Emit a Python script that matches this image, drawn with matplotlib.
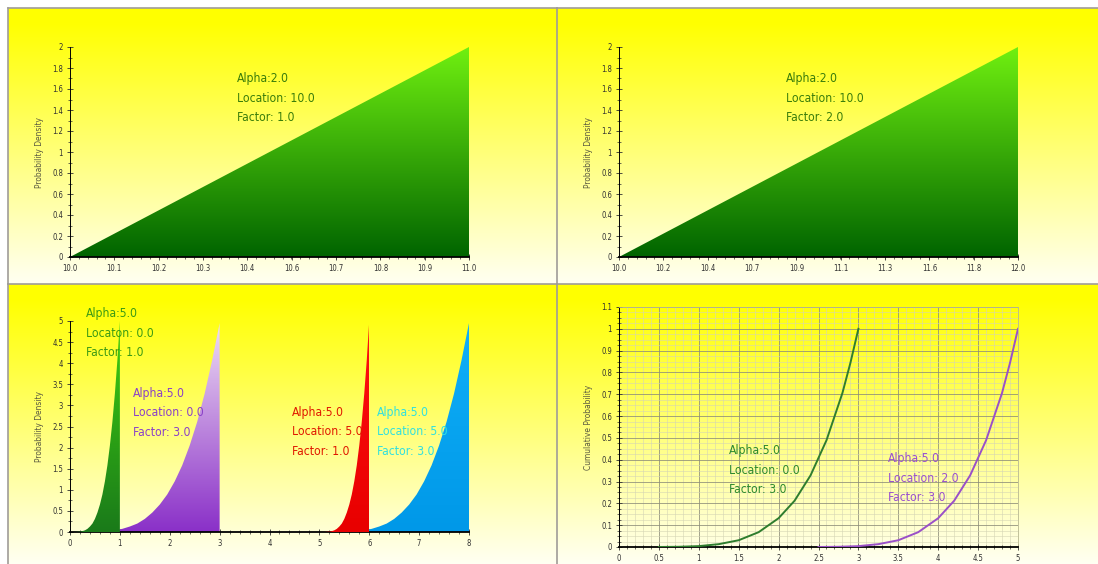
import numpy as np
import matplotlib
matplotlib.use("Agg")
import matplotlib.pyplot as plt
from matplotlib.ticker import MultipleLocator, AutoMinorLocator

# ---- data ----
# top panels: probability density (straight line, alpha 2)
tl_x = [10.0, 11.0]
tl_y = [0.0, 2.0]
tl_ticks = [10.0, 10.111, 10.222, 10.333, 10.444, 10.556, 10.667, 10.778, 10.889, 11.0]
tl_labels = ["10.0", "10.1", "10.2", "10.3", "10.4", "10.6", "10.7", "10.8", "10.9", "11.0"]

tr_x = [10.0, 12.0]
tr_y = [0.0, 2.0]
tr_ticks = [10.0, 10.222, 10.444, 10.667, 10.889, 11.111, 11.333, 11.556, 11.778, 12.0]
tr_labels = ["10.0", "10.2", "10.4", "10.7", "10.9", "11.1", "11.3", "11.6", "11.8", "12.0"]

# bottom-left: four density curves
green_x = [0.0, 0.1, 0.2, 0.25, 0.3, 0.35, 0.4, 0.45, 0.5, 0.55, 0.6, 0.65, 0.7,
           0.75, 0.8, 0.85, 0.9, 0.95, 1.0]
green_y = [0.0, 0.0005, 0.008, 0.02, 0.04, 0.075, 0.13, 0.2, 0.31, 0.46, 0.65, 0.89,
           1.2, 1.58, 2.05, 2.61, 3.28, 4.07, 5.0]
purple_x = [0.0, 0.3, 0.6, 0.75, 0.9, 1.05, 1.2, 1.35, 1.5, 1.65, 1.8, 1.95, 2.1,
            2.25, 2.4, 2.55, 2.7, 2.85, 3.0]
purple_y = [0.0, 0.0005, 0.008, 0.02, 0.04, 0.075, 0.13, 0.2, 0.31, 0.46, 0.65, 0.89,
            1.2, 1.58, 2.05, 2.61, 3.28, 4.07, 4.95]
red_x = [5.0, 5.1, 5.2, 5.25, 5.3, 5.35, 5.4, 5.45, 5.5, 5.55, 5.6, 5.65, 5.7,
         5.75, 5.8, 5.85, 5.9, 5.95, 6.0]
red_y = [0.0, 0.0005, 0.008, 0.02, 0.04, 0.075, 0.13, 0.2, 0.31, 0.46, 0.65, 0.89,
         1.2, 1.58, 2.05, 2.61, 3.28, 4.07, 5.0]
blue_x = [5.0, 5.3, 5.6, 5.75, 5.9, 6.05, 6.2, 6.35, 6.5, 6.65, 6.8, 6.95, 7.1,
          7.25, 7.4, 7.55, 7.7, 7.85, 8.0]
blue_y = [0.0, 0.0005, 0.008, 0.02, 0.04, 0.075, 0.13, 0.2, 0.31, 0.46, 0.65, 0.89,
          1.2, 1.58, 2.05, 2.61, 3.28, 4.07, 4.95]

# bottom-right: cumulative curves
cdf_g_x = [0.5, 0.75, 1.0, 1.25, 1.5, 1.75, 2.0, 2.2, 2.4, 2.6, 2.8, 2.9, 3.0]
cdf_g_y = [0.0001, 0.001, 0.004, 0.013, 0.031, 0.068, 0.132, 0.212, 0.328, 0.489, 0.706, 0.844, 1.0]
cdf_p_x = [2.5, 2.75, 3.0, 3.25, 3.5, 3.75, 4.0, 4.2, 4.4, 4.6, 4.8, 4.9, 5.0]
cdf_p_y = [0.0001, 0.001, 0.004, 0.013, 0.031, 0.068, 0.132, 0.212, 0.328, 0.489, 0.706, 0.844, 1.0]

W, H = 1098, 564
NARROW = ["DejaVu Sans"]


def hexrgb(h):
    h = h.lstrip("#")
    return np.array([int(h[i:i + 2], 16) / 255 for i in (0, 2, 4)])


def panel(x0, y0, x1, y1):
    # yellow gradient background with grey frame on top/left
    ax = fig.add_axes([x0 / W, 1 - y1 / H, (x1 - x0) / W, (y1 - y0) / H], zorder=0)
    t = np.linspace(0, 1, 200)[:, None]
    b = 0.95 * np.clip((t - 0.05) / 0.95, 0, 1) ** 1.0
    img = np.dstack([np.ones((200, 2)), np.ones((200, 2)), np.repeat(b, 2, axis=1)])
    ax.imshow(img, aspect="auto", extent=[0, 1, 0, 1])
    ax.set_xticks([])
    ax.set_yticks([])
    for s in ("right", "bottom"):
        ax.spines[s].set_visible(False)
    for s in ("top", "left"):
        ax.spines[s].set_color("#a09c98")
        ax.spines[s].set_linewidth(1.2)
    return ax


def plot_axes(x0, ytop, x1, ybot):
    ax = fig.add_axes([x0 / W, 1 - ybot / H, (x1 - x0) / W, (ybot - ytop) / H], zorder=2)
    ax.patch.set_alpha(0)
    for s in ("top", "right"):
        ax.spines[s].set_visible(False)
    ax.spines["left"].set_linewidth(0.7)
    ax.spines["bottom"].set_linewidth(1.3)
    ax.tick_params(which="both", direction="inout", labelsize=5.5, colors="#303030", pad=3)
    ax.tick_params(which="major", length=4, width=0.6)
    ax.tick_params(which="minor", length=2.5, width=0.5)
    return ax


def grad_fill(ax, x, y, top, bottom, ymax, z=2):
    poly = ax.fill_between(x, y, 0, facecolor="none", edgecolor="none")
    g = np.linspace(0, 1, 256)[:, None, None]
    img = hexrgb(bottom) + (hexrgb(top) - hexrgb(bottom)) * g
    im = ax.imshow(img, extent=[min(x), max(x), 0, ymax], origin="lower",
                   aspect="auto", zorder=z)
    im.set_clip_path(poly.get_paths()[0], ax.transData)


def label(ax, x, y, txt, color):
    ax.text(x, y, txt, color=color, fontsize=8.7, family=NARROW, fontstretch="condensed",
            va="top", ha="left", linespacing=1.65, zorder=5, clip_on=False)


def fix_ticklabels(ax):
    for lab in ax.get_xticklabels() + ax.get_yticklabels():
        lab.set_family(NARROW)
        lab.set_stretch("condensed")


fig = plt.figure(figsize=(W / 100, H / 100), dpi=100)
fig.patch.set_facecolor("white")

panel(8, 8, 557, 284)
panel(557, 8, 1098, 284)
panel(8, 284, 557, 564)
panel(557, 284, 1098, 564)

ylab_kw = dict(fontsize=6, color="#5a5a40", family=NARROW, fontstretch="condensed")

# top-left
ax = plot_axes(70, 47, 469, 257)
grad_fill(ax, tl_x, tl_y, "#70f010", "#006400", 2)
ax.set_xlim(10, 11)
ax.set_ylim(0, 2)
ax.set_xticks(tl_ticks)
ax.set_xticklabels(tl_labels)
ax.set_yticks(np.arange(0, 2.01, 0.2))
ax.set_yticklabels(["0", "0.2", "0.4", "0.6", "0.8", "1", "1.2", "1.4", "1.6", "1.8", "2"])
ax.xaxis.set_minor_locator(AutoMinorLocator(5))
ax.yaxis.set_minor_locator(AutoMinorLocator(2))
ax.set_ylabel("Probability Density", labelpad=6, **ylab_kw)
fix_ticklabels(ax)
label(ax, 10.419, 1.76, "Alpha:2.0\nLocation: 10.0\nFactor: 1.0", "#3a7d0a")

# top-right
ax = plot_axes(619, 47, 1018, 257)
grad_fill(ax, tr_x, tr_y, "#70f010", "#006400", 2)
ax.set_xlim(10, 12)
ax.set_ylim(0, 2)
ax.set_xticks(tr_ticks)
ax.set_xticklabels(tr_labels)
ax.set_yticks(np.arange(0, 2.01, 0.2))
ax.set_yticklabels(["0", "0.2", "0.4", "0.6", "0.8", "1", "1.2", "1.4", "1.6", "1.8", "2"])
ax.xaxis.set_minor_locator(AutoMinorLocator(5))
ax.yaxis.set_minor_locator(AutoMinorLocator(2))
ax.set_ylabel("Probability Density", labelpad=6, **ylab_kw)
fix_ticklabels(ax)
label(ax, 10.837, 1.76, "Alpha:2.0\nLocation: 10.0\nFactor: 2.0", "#3a7d0a")

# bottom-left
ax = plot_axes(70, 321, 469, 532)
grad_fill(ax, purple_x, purple_y, "#f0e0f4", "#8a30c8", 5, z=2)
grad_fill(ax, green_x, green_y, "#40d010", "#1a7a1a", 5, z=3)
grad_fill(ax, blue_x, blue_y, "#10b0f8", "#0098e8", 5, z=2)
grad_fill(ax, red_x, red_y, "#ff1010", "#e80000", 5, z=3)
ax.set_xlim(0, 8)
ax.set_ylim(0, 5)
ax.set_xticks(range(0, 9))
ax.set_yticks(np.arange(0, 5.01, 0.5))
ax.set_yticklabels(["0", "0.5", "1", "1.5", "2", "2.5", "3", "3.5", "4", "4.5", "5"])
ax.xaxis.set_minor_locator(AutoMinorLocator(5))
ax.yaxis.set_minor_locator(AutoMinorLocator(2))
ax.set_ylabel("Probability Density", labelpad=6, **ylab_kw)
fix_ticklabels(ax)
label(ax, 0.32, 5.33, "Alpha:5.0\nLocaton: 0.0\nFactor: 1.0", "#3c9a14")
label(ax, 1.26, 3.44, "Alpha:5.0\nLocation: 0.0\nFactor: 3.0", "#8a40c8")
label(ax, 4.45, 2.99, "Alpha:5.0\nLocation: 5.0\nFactor: 1.0", "#e01800")
label(ax, 6.16, 2.99, "Alpha:5.0\nLocation: 5.0\nFactor: 3.0", "#30e0e0")

# bottom-right
ax = plot_axes(619, 307, 1018, 547)
ax.plot(cdf_g_x, cdf_g_y, color="#2e7d2e", lw=1.4, zorder=4)
ax.plot(cdf_p_x, cdf_p_y, color="#9a50c8", lw=1.4, zorder=4)
ax.set_xlim(0, 5)
ax.set_ylim(0, 1.1)
ax.set_xticks(np.arange(0, 5.01, 0.5))
ax.set_xticklabels(["0", "0.5", "1", "1.5", "2", "2.5", "3", "3.5", "4", "4.5", "5"])
ax.set_yticks(np.arange(0, 1.101, 0.1))
ax.set_yticklabels(["0", "0.1", "0.2", "0.3", "0.4", "0.5", "0.6", "0.7", "0.8", "0.9", "1", "1.1"])
ax.xaxis.set_minor_locator(MultipleLocator(0.1))
ax.yaxis.set_minor_locator(MultipleLocator(0.025))
ax.grid(which="major", color="#8c8c78", lw=0.7, alpha=0.8)
ax.grid(which="minor", color="#d4d4b4", lw=0.5, alpha=0.8)
ax.set_axisbelow(True)
ax.spines["top"].set_visible(True)
ax.spines["right"].set_visible(True)
ax.spines["top"].set_color("#b8b890")
ax.spines["right"].set_color("#b8b890")
ax.spines["top"].set_linewidth(0.6)
ax.spines["right"].set_linewidth(0.6)
ax.set_ylabel("Cumulative Probability", labelpad=6, **ylab_kw)
fix_ticklabels(ax)
label(ax, 1.378, 0.472, "Alpha:5.0\nLocation: 0.0\nFactor: 3.0", "#2e8a2e")
label(ax, 3.371, 0.435, "Alpha:5.0\nLocation: 2.0\nFactor: 3.0", "#9a50d0")

plt.savefig("out.png", dpi=100)
